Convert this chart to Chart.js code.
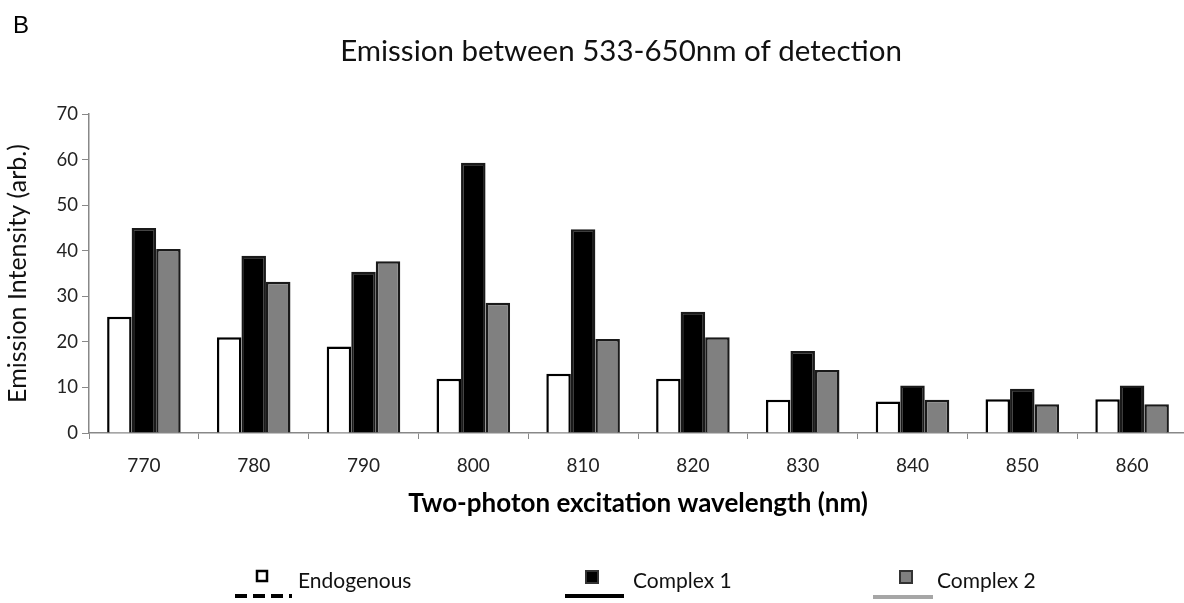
<!DOCTYPE html>
<html>
<head>
<meta charset="utf-8">
<script src="https://cdn.jsdelivr.net/npm/chart.js@4.4.1/dist/chart.umd.min.js"></script>
<style>
  html, body { margin: 0; padding: 0; background: #fff; overflow: hidden; }
  #wrap { width: 1200px; height: 603px; }
</style>
</head>
<body>
<div id="wrap"><canvas id="emission" width="1200" height="603"></canvas></div>
<script>
const wavelengths = ['770', '780', '790', '800', '810', '820', '830', '840', '850', '860'];
const endogenous = [25.5, 21.0, 19.0, 11.9, 13.0, 11.9, 7.3, 6.9, 7.4, 7.4];
const complex1 = [45.0, 38.9, 35.4, 59.3, 44.7, 26.6, 18.0, 10.4, 9.7, 10.4];
const complex2 = [40.4, 33.2, 37.7, 28.6, 20.6, 21.0, 13.8, 7.3, 6.3, 6.3];

const chartTitle = 'Emission between 533-650nm of detection';
const seriesNames = ['Endogenous', 'Complex 1', 'Complex 2'];
const FONT = 'Lato';

// panel letter, title and the odd little legend at the bottom
const extrasPlugin = {
  id: 'extras',
  afterDraw(chart) {
    const ctx = chart.ctx;
    ctx.save();
    ctx.fillStyle = '#000';
    ctx.textBaseline = 'middle';

    ctx.font = '24px "Liberation Sans"';
    ctx.textAlign = 'left';
    ctx.fillText('B', 13, 26);

    ctx.font = '29.5px ' + FONT;
    ctx.fillStyle = '#111';
    ctx.textAlign = 'center';
    ctx.fillText(chartTitle, 621, 51);

    // legend
    ctx.font = '21px ' + FONT;
    ctx.textAlign = 'left';
    ctx.fillStyle = '#111';
    ctx.fillText(seriesNames[0], 298, 581);
    ctx.fillText(seriesNames[1], 633, 581);
    ctx.fillText(seriesNames[2], 937, 581);

    // endogenous: white box + dashed line
    ctx.lineWidth = 2.5;
    ctx.strokeStyle = '#000';
    ctx.fillStyle = '#fff';
    ctx.fillRect(257, 571, 10, 10);
    ctx.strokeRect(257, 571, 10, 10);
    ctx.lineWidth = 4;
    ctx.setLineDash([12, 6]);
    ctx.beginPath(); ctx.moveTo(235, 596); ctx.lineTo(292, 596); ctx.stroke();
    ctx.setLineDash([]);

    // complex 1
    ctx.lineWidth = 2;
    ctx.strokeStyle = '#333';
    ctx.fillStyle = '#000';
    ctx.fillRect(586, 571, 12, 12);
    ctx.strokeRect(586, 571, 12, 12);
    ctx.lineWidth = 4;
    ctx.strokeStyle = '#000';
    ctx.beginPath(); ctx.moveTo(565, 596); ctx.lineTo(624, 596); ctx.stroke();

    // complex 2
    ctx.lineWidth = 2;
    ctx.strokeStyle = '#333';
    ctx.fillStyle = '#808080';
    ctx.fillRect(900, 571, 12, 12);
    ctx.strokeRect(900, 571, 12, 12);
    ctx.lineWidth = 4;
    ctx.strokeStyle = '#a6a6a6';
    ctx.beginPath(); ctx.moveTo(873, 597); ctx.lineTo(933, 597); ctx.stroke();

    ctx.restore();
  }
};

new Chart(document.getElementById('emission'), {
  type: 'bar',
  data: {
    labels: wavelengths,
    datasets: [
      { label: seriesNames[0], data: endogenous, backgroundColor: '#ffffff', borderColor: '#000000', borderWidth: 2.5 },
      { label: seriesNames[1], data: complex1, backgroundColor: '#000000', borderColor: '#1a1a1a', borderWidth: 2.5 },
      { label: seriesNames[2], data: complex2, backgroundColor: '#808080', borderColor: '#1a1a1a', borderWidth: 2.5 }
    ]
  },
  options: {
    responsive: false,
    animation: false,
    devicePixelRatio: 1,
    layout: { padding: { left: 0, top: 114, right: 13, bottom: 80 } },
    datasets: { bar: { categoryPercentage: 0.67, barPercentage: 1.0 } },
    plugins: {
      legend: { display: false },
      title: { display: false },
      tooltip: { enabled: false }
    },
    scales: {
      x: {
        afterFit(scale) { scale.height = 90; },
        grid: { drawOnChartArea: false, offset: true, tickLength: 6, color: '#888' },
        border: { color: '#888', width: 1.5 },
        ticks: { color: '#222', font: { family: FONT, size: 19 }, padding: 15, maxRotation: 0 },
        title: {
          display: true,
          text: 'Two-photon excitation wavelength (nm)',
          color: '#000',
          font: { family: FONT, size: 26, weight: 'bold' },
          padding: { top: 0, bottom: 4 }
        }
      },
      y: {
        min: 0,
        max: 70,
        afterFit(scale) { scale.width = 89; },
        grid: { drawOnChartArea: false, tickLength: 7, color: '#888' },
        border: { color: '#888', width: 1.5 },
        ticks: { stepSize: 10, color: '#222', font: { family: FONT, size: 18.5 }, padding: 4 },
        title: {
          display: true,
          text: 'Emission Intensity (arb.)',
          color: '#111',
          font: { family: FONT, size: 25 },
          padding: { top: 3, bottom: 0 }
        }
      }
    }
  },
  plugins: [extrasPlugin]
});
</script>
</body>
</html>
